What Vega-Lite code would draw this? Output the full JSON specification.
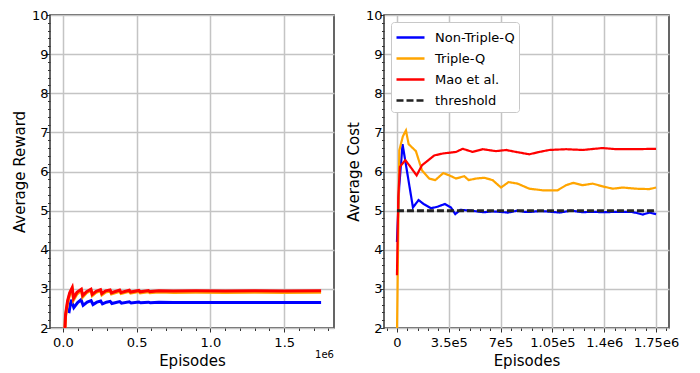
{
"$schema": "https://vega.github.io/schema/vega-lite/v6.json",
"padding": {"left": 11, "top": 8, "right": 0, "bottom": 0},
"background": "white",
"config": {
  "font": "DejaVu Sans",
  "view": {"stroke": "#333", "strokeWidth": 1.5},
  "axis": {"labelFont": "DejaVu Sans", "labelFontSize": 13, "labelColor": "#000", "titleFont": "DejaVu Sans", "titleFontSize": 15, "titleFontWeight": "normal", "titleColor": "#000", "domain": false, "tickColor": "#333", "tickWidth": 1, "gridColor": "#c4c4c4", "gridWidth": 1.5, "labelOverlap": false, "labelFlush": false}
},
"resolve": {"scale": {"color": "independent", "strokeDash": "independent", "x": "independent", "y": "independent"}, "legend": {"color": "independent", "strokeDash": "independent"}},
"spacing": 10,
"datasets": {
  "reward": [
    {"series":"Non-Triple-Q","episode":40000,"value":2.38},{"series":"Non-Triple-Q","episode":56000,"value":2.72},{"series":"Non-Triple-Q","episode":74000,"value":2.52},{"series":"Non-Triple-Q","episode":100000,"value":2.65},{"series":"Non-Triple-Q","episode":123000,"value":2.72},{"series":"Non-Triple-Q","episode":137000,"value":2.58},{"series":"Non-Triple-Q","episode":165000,"value":2.665},{"series":"Non-Triple-Q","episode":191000,"value":2.70},{"series":"Non-Triple-Q","episode":204000,"value":2.60},{"series":"Non-Triple-Q","episode":230000,"value":2.66},{"series":"Non-Triple-Q","episode":256000,"value":2.69},{"series":"Non-Triple-Q","episode":268000,"value":2.615},{"series":"Non-Triple-Q","episode":295000,"value":2.66},{"series":"Non-Triple-Q","episode":320000,"value":2.68},{"series":"Non-Triple-Q","episode":332000,"value":2.625},{"series":"Non-Triple-Q","episode":385000,"value":2.675},{"series":"Non-Triple-Q","episode":397000,"value":2.635},{"series":"Non-Triple-Q","episode":450000,"value":2.67},{"series":"Non-Triple-Q","episode":462000,"value":2.64},{"series":"Non-Triple-Q","episode":515000,"value":2.665},{"series":"Non-Triple-Q","episode":527000,"value":2.643},{"series":"Non-Triple-Q","episode":580000,"value":2.66},{"series":"Non-Triple-Q","episode":592000,"value":2.645},{"series":"Non-Triple-Q","episode":650000,"value":2.655},{"series":"Non-Triple-Q","episode":750000,"value":2.65},{"series":"Non-Triple-Q","episode":900000,"value":2.652},{"series":"Non-Triple-Q","episode":1100000,"value":2.65},{"series":"Non-Triple-Q","episode":1300000,"value":2.652},{"series":"Non-Triple-Q","episode":1500000,"value":2.65},{"series":"Non-Triple-Q","episode":1750000,"value":2.65},
    {"series":"Triple-Q","episode":8000,"value":1.5},{"series":"Triple-Q","episode":18000,"value":2.3},{"series":"Triple-Q","episode":32000,"value":2.65},{"series":"Triple-Q","episode":46000,"value":2.86},{"series":"Triple-Q","episode":63000,"value":2.99},{"series":"Triple-Q","episode":72000,"value":2.72},{"series":"Triple-Q","episode":95000,"value":2.87},{"series":"Triple-Q","episode":125000,"value":2.96},{"series":"Triple-Q","episode":134000,"value":2.79},{"series":"Triple-Q","episode":160000,"value":2.9},{"series":"Triple-Q","episode":190000,"value":2.96},{"series":"Triple-Q","episode":199000,"value":2.83},{"series":"Triple-Q","episode":225000,"value":2.91},{"series":"Triple-Q","episode":255000,"value":2.95},{"series":"Triple-Q","episode":264000,"value":2.85},{"series":"Triple-Q","episode":290000,"value":2.92},{"series":"Triple-Q","episode":320000,"value":2.945},{"series":"Triple-Q","episode":329000,"value":2.87},{"series":"Triple-Q","episode":385000,"value":2.94},{"series":"Triple-Q","episode":394000,"value":2.88},{"series":"Triple-Q","episode":450000,"value":2.935},{"series":"Triple-Q","episode":459000,"value":2.89},{"series":"Triple-Q","episode":515000,"value":2.93},{"series":"Triple-Q","episode":524000,"value":2.895},{"series":"Triple-Q","episode":580000,"value":2.925},{"series":"Triple-Q","episode":589000,"value":2.9},{"series":"Triple-Q","episode":650000,"value":2.92},{"series":"Triple-Q","episode":750000,"value":2.91},{"series":"Triple-Q","episode":900000,"value":2.915},{"series":"Triple-Q","episode":1100000,"value":2.91},{"series":"Triple-Q","episode":1300000,"value":2.915},{"series":"Triple-Q","episode":1500000,"value":2.91},{"series":"Triple-Q","episode":1750000,"value":2.915},
    {"series":"Mao et al.","episode":8000,"value":1.5},{"series":"Mao et al.","episode":18000,"value":2.35},{"series":"Mao et al.","episode":32000,"value":2.7},{"series":"Mao et al.","episode":46000,"value":2.9},{"series":"Mao et al.","episode":63000,"value":3.03},{"series":"Mao et al.","episode":72000,"value":2.76},{"series":"Mao et al.","episode":95000,"value":2.91},{"series":"Mao et al.","episode":125000,"value":2.99},{"series":"Mao et al.","episode":134000,"value":2.83},{"series":"Mao et al.","episode":160000,"value":2.93},{"series":"Mao et al.","episode":190000,"value":2.99},{"series":"Mao et al.","episode":199000,"value":2.86},{"series":"Mao et al.","episode":225000,"value":2.94},{"series":"Mao et al.","episode":255000,"value":2.98},{"series":"Mao et al.","episode":264000,"value":2.88},{"series":"Mao et al.","episode":290000,"value":2.95},{"series":"Mao et al.","episode":320000,"value":2.975},{"series":"Mao et al.","episode":329000,"value":2.9},{"series":"Mao et al.","episode":385000,"value":2.97},{"series":"Mao et al.","episode":394000,"value":2.91},{"series":"Mao et al.","episode":450000,"value":2.965},{"series":"Mao et al.","episode":459000,"value":2.92},{"series":"Mao et al.","episode":515000,"value":2.96},{"series":"Mao et al.","episode":524000,"value":2.925},{"series":"Mao et al.","episode":580000,"value":2.955},{"series":"Mao et al.","episode":589000,"value":2.93},{"series":"Mao et al.","episode":650000,"value":2.95},{"series":"Mao et al.","episode":750000,"value":2.945},{"series":"Mao et al.","episode":900000,"value":2.95},{"series":"Mao et al.","episode":1100000,"value":2.945},{"series":"Mao et al.","episode":1300000,"value":2.95},{"series":"Mao et al.","episode":1500000,"value":2.945},{"series":"Mao et al.","episode":1750000,"value":2.95}
  ],
  "cost": [
    {"series":"Non-Triple-Q","episode":0,"value":4.2},{"series":"Non-Triple-Q","episode":15000,"value":5.6},{"series":"Non-Triple-Q","episode":37800,"value":6.70},{"series":"Non-Triple-Q","episode":108000,"value":5.08},{"series":"Non-Triple-Q","episode":146000,"value":5.27},{"series":"Non-Triple-Q","episode":180000,"value":5.17},{"series":"Non-Triple-Q","episode":230000,"value":5.06},{"series":"Non-Triple-Q","episode":274000,"value":5.10},{"series":"Non-Triple-Q","episode":324000,"value":5.17},{"series":"Non-Triple-Q","episode":365000,"value":5.08},{"series":"Non-Triple-Q","episode":394000,"value":4.91},{"series":"Non-Triple-Q","episode":428000,"value":5.02},{"series":"Non-Triple-Q","episode":500000,"value":5.0},{"series":"Non-Triple-Q","episode":560000,"value":4.97},{"series":"Non-Triple-Q","episode":590000,"value":4.96},{"series":"Non-Triple-Q","episode":640000,"value":4.98},{"series":"Non-Triple-Q","episode":691000,"value":4.97},{"series":"Non-Triple-Q","episode":750000,"value":4.95},{"series":"Non-Triple-Q","episode":815000,"value":5.0},{"series":"Non-Triple-Q","episode":860000,"value":4.97},{"series":"Non-Triple-Q","episode":905000,"value":4.97},{"series":"Non-Triple-Q","episode":970000,"value":4.99},{"series":"Non-Triple-Q","episode":1040000,"value":4.97},{"series":"Non-Triple-Q","episode":1100000,"value":4.95},{"series":"Non-Triple-Q","episode":1176000,"value":5.0},{"series":"Non-Triple-Q","episode":1250000,"value":4.96},{"series":"Non-Triple-Q","episode":1311000,"value":4.97},{"series":"Non-Triple-Q","episode":1400000,"value":4.96},{"series":"Non-Triple-Q","episode":1490000,"value":4.97},{"series":"Non-Triple-Q","episode":1581000,"value":4.97},{"series":"Non-Triple-Q","episode":1620000,"value":4.94},{"series":"Non-Triple-Q","episode":1660000,"value":4.9},{"series":"Non-Triple-Q","episode":1705000,"value":4.95},{"series":"Non-Triple-Q","episode":1750000,"value":4.91},
    {"series":"Triple-Q","episode":0,"value":1.8},{"series":"Triple-Q","episode":15800,"value":6.54},{"series":"Triple-Q","episode":40000,"value":6.9},{"series":"Triple-Q","episode":60800,"value":7.05},{"series":"Triple-Q","episode":78800,"value":6.7},{"series":"Triple-Q","episode":128000,"value":6.52},{"series":"Triple-Q","episode":169000,"value":6.03},{"series":"Triple-Q","episode":218000,"value":5.82},{"series":"Triple-Q","episode":259000,"value":5.78},{"series":"Triple-Q","episode":313000,"value":5.96},{"series":"Triple-Q","episode":354000,"value":5.9},{"series":"Triple-Q","episode":399000,"value":5.82},{"series":"Triple-Q","episode":455000,"value":5.88},{"series":"Triple-Q","episode":484000,"value":5.78},{"series":"Triple-Q","episode":534000,"value":5.82},{"series":"Triple-Q","episode":590000,"value":5.84},{"series":"Triple-Q","episode":646000,"value":5.78},{"series":"Triple-Q","episode":703000,"value":5.59},{"series":"Triple-Q","episode":754000,"value":5.73},{"series":"Triple-Q","episode":815000,"value":5.69},{"series":"Triple-Q","episode":894000,"value":5.56},{"series":"Triple-Q","episode":984000,"value":5.52},{"series":"Triple-Q","episode":1085000,"value":5.52},{"series":"Triple-Q","episode":1142000,"value":5.65},{"series":"Triple-Q","episode":1191000,"value":5.71},{"series":"Triple-Q","episode":1254000,"value":5.65},{"series":"Triple-Q","episode":1322000,"value":5.69},{"series":"Triple-Q","episode":1389000,"value":5.62},{"series":"Triple-Q","episode":1457000,"value":5.56},{"series":"Triple-Q","episode":1525000,"value":5.59},{"series":"Triple-Q","episode":1615000,"value":5.56},{"series":"Triple-Q","episode":1705000,"value":5.55},{"series":"Triple-Q","episode":1750000,"value":5.59},
    {"series":"Mao et al.","episode":0,"value":3.35},{"series":"Mao et al.","episode":9000,"value":5.35},{"series":"Mao et al.","episode":20000,"value":6.12},{"series":"Mao et al.","episode":56000,"value":6.29},{"series":"Mao et al.","episode":83000,"value":6.16},{"series":"Mao et al.","episode":133000,"value":5.9},{"series":"Mao et al.","episode":169000,"value":6.16},{"series":"Mao et al.","episode":196000,"value":6.24},{"series":"Mao et al.","episode":252000,"value":6.41},{"series":"Mao et al.","episode":309000,"value":6.46},{"series":"Mao et al.","episode":399000,"value":6.5},{"series":"Mao et al.","episode":444000,"value":6.58},{"series":"Mao et al.","episode":511000,"value":6.5},{"series":"Mao et al.","episode":579000,"value":6.57},{"series":"Mao et al.","episode":669000,"value":6.52},{"series":"Mao et al.","episode":737000,"value":6.55},{"series":"Mao et al.","episode":804000,"value":6.5},{"series":"Mao et al.","episode":894000,"value":6.44},{"series":"Mao et al.","episode":962000,"value":6.5},{"series":"Mao et al.","episode":1029000,"value":6.55},{"series":"Mao et al.","episode":1142000,"value":6.57},{"series":"Mao et al.","episode":1254000,"value":6.55},{"series":"Mao et al.","episode":1389000,"value":6.6},{"series":"Mao et al.","episode":1479000,"value":6.57},{"series":"Mao et al.","episode":1592000,"value":6.57},{"series":"Mao et al.","episode":1750000,"value":6.58}
  ],
  "threshold": [
    {"series":"threshold","episode":0,"value":5},{"series":"threshold","episode":1750000,"value":5}
  ]
},
"hconcat": [
  {
    "width": 284, "height": 313,
    "title": {"text": "1e6", "orient": "bottom", "anchor": "end", "frame": "group", "fontSize": 10, "fontWeight": "normal", "font": "DejaVu Sans", "color": "#000", "offset": -18},
    "data": {"name": "reward"},
    "mark": {"type": "line", "strokeWidth": 3, "clip": true},
    "encoding": {
      "x": {"field": "episode", "type": "quantitative", "scale": {"domain": [-87500, 1837500], "nice": false, "zero": false},
        "axis": {"title": "Episodes", "values": [0,100000,200000,300000,400000,500000,600000,700000,800000,900000,1000000,1100000,1200000,1300000,1400000,1500000,1600000,1700000,1800000],
          "labelExpr": "datum.value % 500000 === 0 ? format(datum.value/1000000, '.1f') : ''",
          "tickSize": {"condition": {"test": "datum.value % 500000 === 0", "value": 4}, "value": 2.5},
          "gridOpacity": {"condition": {"test": "datum.value % 500000 === 0", "value": 1}, "value": 0},
          "labelPadding": 4, "titlePadding": 4}},
      "y": {"field": "value", "type": "quantitative", "scale": {"domain": [2, 10], "nice": false, "zero": false},
        "axis": {"title": "Average Reward", "values": [2,2.2,2.4,2.6,2.8,3,3.2,3.4,3.6,3.8,4,4.2,4.4,4.6,4.8,5,5.2,5.4,5.6,5.8,6,6.2,6.4,6.6,6.8,7,7.2,7.4,7.6,7.8,8,8.2,8.4,8.6,8.8,9,9.2,9.4,9.6,9.8,10],
          "labelExpr": "datum.value % 1 === 0 ? format(datum.value, 'd') : ''",
          "tickSize": {"condition": {"test": "datum.value % 1 === 0", "value": 4}, "value": 2.5},
          "gridOpacity": {"condition": {"test": "datum.value % 1 === 0", "value": 1}, "value": 0},
          "labelPadding": -2, "titlePadding": 4}},
      "color": {"field": "series", "type": "nominal", "sort": null, "scale": {"domain": ["Non-Triple-Q", "Triple-Q", "Mao et al."], "range": ["#0000ff", "#ffa500", "#ff0000"]}, "legend": null}
    }
  },
  {
    "width": 285, "height": 313,
    "encoding": {
      "x": {"field": "episode", "type": "quantitative", "scale": {"domain": [-87500, 1837500], "nice": false, "zero": false},
        "axis": {"title": "Episodes", "values": [-70000,0,70000,140000,210000,280000,350000,420000,490000,560000,630000,700000,770000,840000,910000,980000,1050000,1120000,1190000,1260000,1330000,1400000,1470000,1540000,1610000,1680000,1750000,1820000],
          "labelExpr": "datum.value == 0 ? '0' : datum.value == 350000 ? '3.5e5' : datum.value == 700000 ? '7e5' : datum.value == 1050000 ? '1.05e5' : datum.value == 1400000 ? '1.4e6' : datum.value == 1750000 ? '1.75e6' : ''",
          "tickSize": {"condition": {"test": "datum.value % 350000 === 0", "value": 4}, "value": 2.5},
          "gridOpacity": {"condition": {"test": "datum.value % 350000 === 0", "value": 1}, "value": 0},
          "labelPadding": 4, "titlePadding": 4}},
      "y": {"field": "value", "type": "quantitative", "scale": {"domain": [2, 10], "nice": false, "zero": false},
        "axis": {"title": "Average Cost", "values": [2,2.2,2.4,2.6,2.8,3,3.2,3.4,3.6,3.8,4,4.2,4.4,4.6,4.8,5,5.2,5.4,5.6,5.8,6,6.2,6.4,6.6,6.8,7,7.2,7.4,7.6,7.8,8,8.2,8.4,8.6,8.8,9,9.2,9.4,9.6,9.8,10],
          "labelExpr": "datum.value % 1 === 0 ? format(datum.value, 'd') : ''",
          "tickSize": {"condition": {"test": "datum.value % 1 === 0", "value": 4}, "value": 2.5},
          "gridOpacity": {"condition": {"test": "datum.value % 1 === 0", "value": 1}, "value": 0},
          "labelPadding": -2, "titlePadding": 4}},
      "color": {"field": "series", "type": "nominal", "sort": null, "scale": {"domain": ["Non-Triple-Q", "Triple-Q", "Mao et al.", "threshold"], "range": ["#0000ff", "#ffa500", "#ff0000", "#222222"]},
        "legend": {"title": null, "orient": "top-left", "offset": 7, "symbolType": "M-1.4,0H1.4", "symbolSize": 400, "symbolOffset": 4, "symbolStrokeWidth": 2.5, "labelFontSize": 13, "labelFont": "DejaVu Sans", "labelColor": "#000", "padding": 4, "rowPadding": 2, "strokeColor": "#c8c8c8", "fillColor": "#ffffff", "cornerRadius": 3, "labelOffset": 13}},
      "strokeDash": {"field": "series", "type": "nominal", "sort": null, "scale": {"domain": ["Non-Triple-Q", "Triple-Q", "Mao et al.", "threshold"], "range": [[1,0],[1,0],[1,0],[7,3]]},
        "legend": {"title": null, "orient": "top-left", "offset": 7, "symbolType": "M-1.4,0H1.4", "symbolSize": 400, "symbolOffset": 4, "symbolStrokeWidth": 2.5, "labelFontSize": 13, "labelFont": "DejaVu Sans", "labelColor": "#000", "padding": 4, "rowPadding": 2, "strokeColor": "#c8c8c8", "fillColor": "#ffffff", "cornerRadius": 3, "labelOffset": 13}}
    },
    "layer": [
      {"data": {"name": "cost"}, "mark": {"type": "line", "strokeWidth": 2.2, "clip": true}},
      {"data": {"name": "threshold"}, "mark": {"type": "line", "strokeWidth": 3, "clip": true}}
    ]
  }
]
}
